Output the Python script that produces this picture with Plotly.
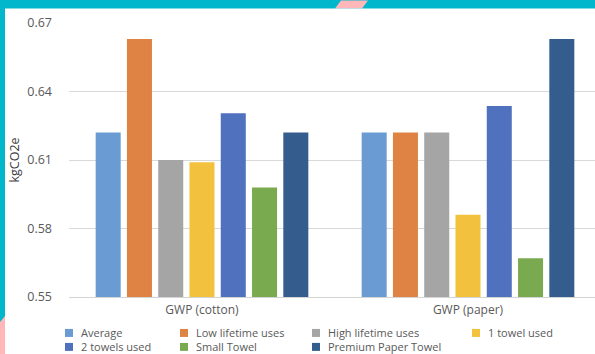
import plotly.graph_objects as go

# ---- data ----
categories = ["GWP (cotton)", "GWP (paper)"]
series_names = ["Average", "Low lifetime uses", "High lifetime uses", "1 towel used",
                "2 towels used", "Small Towel", "Premium Paper Towel"]
cotton_values = [0.622, 0.663, 0.610, 0.609, 0.6305, 0.598, 0.622]
paper_values = [0.622, 0.622, 0.622, 0.586, 0.6336, 0.567, 0.663]
y_ticks = [0.55, 0.58, 0.61, 0.64, 0.67]
colors = ["#6a9bd2", "#de8344", "#a5a5a5", "#f2c23e", "#4f71be", "#7aaa50", "#345d8e"]

# ---- layout geometry (pixels) ----
W, H = 595, 354
ML, MR, MT, MB = 69, 0, 22.5, 57
PW = W - ML - MR
PH = H - MT - MB

def px(x):
    return (x - ML) / PW

def py(y):
    return (H - MB - y) / PH

TEAL = "#00b7cc"
PINK = "#ffb7b9"
TXT = "#595959"
FONT = "Open Sans"

fig = go.Figure()
for i, name in enumerate(series_names):
    fig.add_trace(go.Bar(
        x=categories,
        y=[cotton_values[i], paper_values[i]],
        name=name,
        marker=dict(color=colors[i], line=dict(width=0)),
        showlegend=False,
    ))

shapes = []
# background decorations
shapes.append(dict(type="path", xref="paper", yref="paper", layer="below",
                   path=f"M {px(341)},{py(0)} L {px(368)},{py(0)} L {px(362)},{py(8)} L {px(335)},{py(8)} Z",
                   fillcolor=PINK, line=dict(width=0)))
shapes.append(dict(type="path", xref="paper", yref="paper", layer="below",
                   path=f"M {px(0)},{py(322)} L {px(5)},{py(316)} L {px(5)},{py(354)} L {px(0)},{py(354)} Z",
                   fillcolor=PINK, line=dict(width=0)))
shapes.append(dict(type="rect", xref="paper", yref="paper", layer="below",
                   x0=px(5), x1=px(595), y0=py(354), y1=py(8),
                   fillcolor="white", line=dict(width=0)))

# manual legend (two rows, four columns)
legend_cols = [65, 180, 312, 472]
legend_rows = [333, 347]
annotations = []
for i, name in enumerate(series_names):
    r, c = divmod(i, 4)
    x0 = legend_cols[c]
    yc = legend_rows[r]
    shapes.append(dict(type="rect", xref="paper", yref="paper",
                       x0=px(x0), x1=px(x0 + 8), y0=py(yc + 4), y1=py(yc - 4),
                       fillcolor=colors[i], line=dict(width=0)))
    annotations.append(dict(xref="paper", yref="paper", x=px(x0 + 15), y=py(yc),
                            xanchor="left", yanchor="middle", showarrow=False,
                            borderpad=0,
                            text=name, font=dict(family=FONT, size=11, color=TXT)))

fig.update_layout(
    width=W, height=H,
    margin=dict(l=ML, r=MR, t=MT, b=MB, pad=0),
    paper_bgcolor=TEAL,
    plot_bgcolor="white",
    barmode="group",
    bargap=0.177,
    bargroupgap=0.2,
    font=dict(family=FONT, size=12, color=TXT),
    shapes=shapes,
    annotations=annotations,
    xaxis=dict(
        type="category",
        range=[-0.5, 1.5 - 6 / 266],
        showgrid=False,
        showline=True, linecolor="#d4d4d4", linewidth=1,
        ticks="", tickfont=dict(family=FONT, size=12, color=TXT),
        ticklabelstandoff=2,
    ),
    yaxis=dict(
        range=[0.55, 0.67],
        tickvals=y_ticks,
        tickformat=".2f",
        showgrid=True, gridcolor="#d9d9d9", gridwidth=1,
        zeroline=False,
        showline=False,
        ticks="",
        tickfont=dict(family=FONT, size=12.5, color=TXT),
        ticklabelstandoff=16,
        title=dict(text="kgCO2e", font=dict(family=FONT, size=12.5, color="#404040"), standoff=4),
    ),
)

fig.write_html("out.html")
